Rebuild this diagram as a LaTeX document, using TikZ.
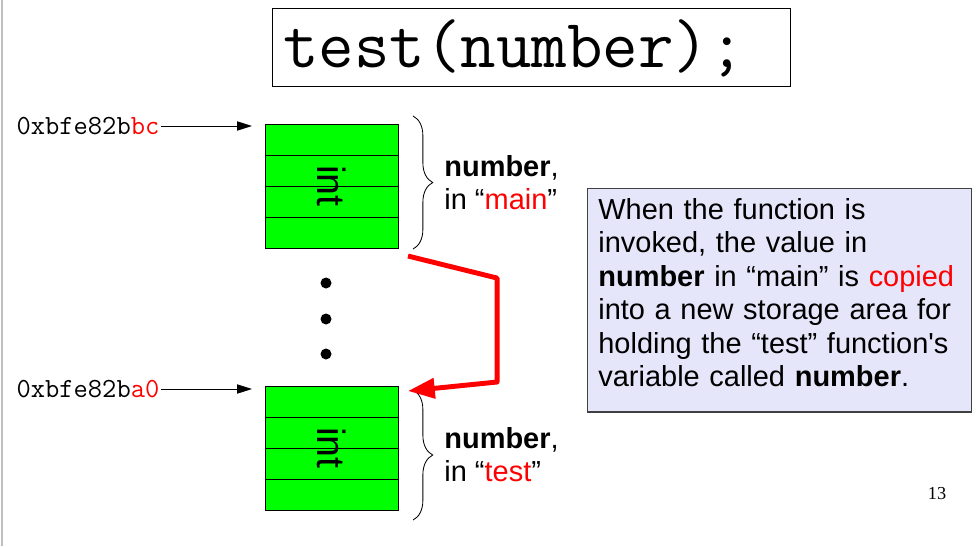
\documentclass[tikz,border=0pt]{standalone}
\usepackage{fontspec}
\setmainfont{Liberation Sans}
\newfontfamily\pagefont{Liberation Serif}
\usepackage{xcolor}
\usepackage{tikz}
\usetikzlibrary{positioning,arrows.meta,decorations.pathreplacing}

\definecolor{memgreen}{RGB}{0,255,0}
\definecolor{notebg}{RGB}{230,230,250}

\tikzset{
  cell/.style={draw, fill=memgreen, line width=0.7pt, minimum width=3.325cm, minimum height=0.775cm, inner sep=0pt, outer sep=0pt},
  inttext/.style={rotate=-90, font=\fontsize{28}{28}\selectfont, inner sep=0pt},
  addr/.style={font=\ttfamily\fontsize{19.7}{20}\selectfont, inner sep=1pt},
  ptr/.style={-{Triangle[length=10.5pt,width=6.5pt]}, line width=0.7pt},
  curly/.style={decorate, decoration={brace, amplitude=14pt}, line width=0.6pt},
  varlabel/.style={align=left, inner sep=0pt},
  copyline/.style={red, line width=3.5pt, line join=round, -{Triangle[length=19pt,width=14pt]}},
  dot/.style={circle, fill, inner sep=0pt, minimum size=0.275cm},
  notebox/.style={draw=black!75, fill=notebg, line width=0.8pt, text width=9.06cm, inner xsep=0.27cm, inner ysep=7pt, align=left, font=\fontsize{20.6}{23.8}\selectfont},
  titlebox/.style={draw, line width=0.7pt, text width=12.4cm, inner xsep=0.275cm, inner ysep=0pt, align=left, text height=42.5pt, text depth=13.5pt, font=\ttfamily\fontsize{49}{49}\selectfont},
}

\begin{document}
\begin{tikzpicture}[x=0.025cm, y=-0.025cm, font=\fontsize{20.6}{23.5}\selectfont]

\def\MEMBLOCK(#1)#2{%
  \begin{scope}[shift={(#1)}]
  \node[cell, anchor=north west] (#2 1) at (0,0) {}; % first word of the int
  \foreach \r [count=\p] in {2,3,4}
    \node[cell, below=0pt of #2 \p] (#2 \r) {}; % remaining words
  \node[inttext] (#2 int) at (#2 2.south) {int}; % type label
  \coordinate (#2 in) at (-13,0); % end of the address arrow
  \end{scope}
}

\useasboundingbox (0,0) rectangle (979,546);
\draw[gray!50, line width=1pt] (2,0) -- (2,546); % slide edge

% the call
\node[titlebox, anchor=north west] (call) at (272,7.5) {test(number);};

% memory
\MEMBLOCK(265,124){top}
\MEMBLOCK(265,386){bot}

\node[addr, anchor=east] (addr top) at (161,126) {0xbfe82b\textcolor{red}{bc}};
\node[addr, anchor=east] (addr bot) at (161,389) {0xbfe82b\textcolor{red}{a0}};
\draw[ptr] (addr top.east) -- (addr top.east -| top in);
\draw[ptr] (addr bot.east) -- (addr bot.east -| bot in);

% braces and names
\draw[curly] ([shift={(15,-8)}]top 1.north east) -- ([shift={(15,1)}]top 4.south east)
  node[varlabel, midway, anchor=west, xshift=22pt] (name top) {\textbf{number},\\in “\textcolor{red}{main}”};
\draw[curly] ([shift={(15,4)}]bot 1.north east) -- ([shift={(15,10)}]bot 4.south east)
  node[varlabel, midway, anchor=west, xshift=22pt] (name bot) {\textbf{number},\\in “\textcolor{red}{test}”};

% gap in the stack
\foreach \y [count=\k] in {283,319,354}
  \node[dot] (dot\k) at (326,\y) {};

% the copy
\draw[copyline] ([shift={(10,8)}]top 4.south east) -- ++(89,22) -- ++(0,104) -- ([shift={(10,5)}]bot 1.north east);

\node[notebox, anchor=north west] (note) at (587,188) {When the function is\\invoked, the value in\\\textbf{number} in “main” is \textcolor{red}{copied}\\into a new storage area for\\holding the “test” function\textquotesingle s\\variable called \textbf{number}.\rule[-11pt]{0pt}{11pt}};

\node[font=\pagefont\fontsize{13}{13}\selectfont] (pnum) at (937,494) {13};
\end{tikzpicture}
\end{document}
